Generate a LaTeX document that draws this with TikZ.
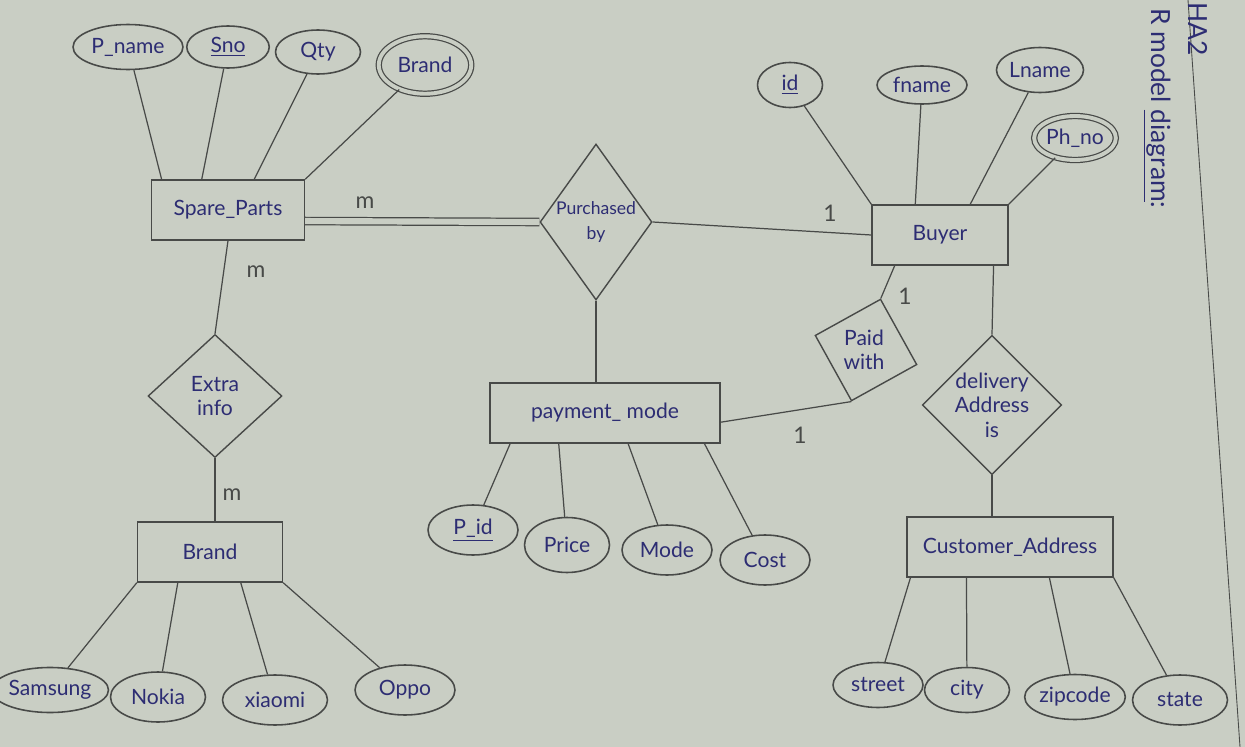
\documentclass[tikz,border=0pt]{standalone}
\usepackage{fontspec}
\setmainfont{Lato}
\usetikzlibrary{shapes.geometric,calc}
\definecolor{paper}{RGB}{201,206,196}
\definecolor{ink}{RGB}{45,45,115}
\definecolor{pencil}{RGB}{72,74,72}
\begin{document}
\begin{tikzpicture}[x=0.02cm,y=-0.02cm,
  every node/.style={font=\fontsize{12}{14}\selectfont, text=ink},
  line/.style={draw=pencil, line width=0.7pt},
  attr/.style={ellipse, draw=pencil, line width=0.9pt, inner sep=0pt},
  dattr/.style={attr, double=paper, double distance=2.2pt, line width=0.7pt},
  ent/.style={rectangle, draw=pencil, line width=0.8pt, inner sep=0pt},
  rel/.style={diamond, draw=pencil, line width=0.8pt, inner sep=0pt, align=center},
  card/.style={font=\fontsize{13}{14}\selectfont, text=pencil},
  margintext/.style={font=\fontsize{15}{16}\selectfont, text=ink, rotate=-90}]
\fill[paper] (0,0) rectangle (1245,747);
\useasboundingbox (0,0) rectangle (1245,747);

% margin
\coordinate (mtop) at (1188,0);
\coordinate (mbot) at (1240,747);
\draw[line, line width=0.5pt] (mtop) -- (mbot);
\node[margintext, anchor=west] (title) at (1157,2) {R model \underline{diagram}:};
\node[margintext, anchor=west] (ha) at (1198,-4) {HA2};

% entities
\node[ent, minimum width=3.06cm, minimum height=1.2cm] (sp) at (228,210) {Spare\_Parts};
\node[ent, minimum width=2.72cm, minimum height=1.2cm] (buyer) at (940,235) {Buyer};
\node[ent, minimum width=2.9cm, minimum height=1.2cm] (brand) at (210,552) {Brand};
\node[ent, minimum width=4.6cm, minimum height=1.2cm] (pm) at (605,413) {payment\_ mode};
\node[ent, minimum width=4.12cm, minimum height=1.2cm] (ca) at (1010,547) {Customer\_Address};

% relationships
\node[rel, minimum width=2.24cm, minimum height=3.12cm] (pb) at (596,222) {};
\node[align=center, font=\fontsize{10}{14}\selectfont] (pbtxt) at (596,222) {Purchased\\by};
\node[rel, minimum width=2.68cm, minimum height=2.46cm] (extra) at (215,396) {Extra\\info};
\node[rel, minimum width=2.12cm, minimum height=2.12cm, rotate=-16] (paid) at (866,350) {};
\node[align=center] (paidtxt) at (864,350) {Paid\\with};
\node[rel, minimum width=2.56cm, minimum height=2.52cm] (del) at (992,405) {delivery\\Address\\is};

% attributes of Spare_Parts
\node[attr, minimum width=2.2cm, minimum height=0.9cm] (pname) at (128,47) {P\_name};
\node[attr, minimum width=1.65cm, minimum height=0.84cm] (sno) at (228,47) {\underline{Sno}};
\node[attr, minimum width=1.7cm, minimum height=0.88cm] (qty) at (318,52) {Qty};
\node[dattr, minimum width=1.85cm, minimum height=1.15cm] (brandattr) at (425,65) {Brand};

% attributes of Buyer
\node[attr, minimum width=1.3cm, minimum height=0.9cm] (id) at (790,85) {\underline{id}};
\node[attr, minimum width=1.8cm, minimum height=0.76cm] (fname) at (922,85) {fname};
\node[attr, minimum width=1.7cm, minimum height=0.9cm] (lname) at (1040,70) {Lname};
\node[dattr, minimum width=1.4cm, minimum height=0.88cm] (phno) at (1075,138) {Ph\_no};

% attributes of Brand
\node[attr, minimum width=1.9cm, minimum height=0.9cm] (samsung) at (50,690) {Samsung};
\node[attr, minimum width=1.9cm, minimum height=1.0cm] (nokia) at (158,697) {Nokia};
\node[attr, minimum width=2.1cm, minimum height=1.0cm] (xiaomi) at (275,700) {xiaomi};
\node[attr, minimum width=2.0cm, minimum height=1.0cm] (oppo) at (405,690) {Oppo};

% attributes of payment_mode
\node[attr, minimum width=1.8cm, minimum height=1.0cm] (pid) at (473,530) {\underline{P\_id}};
\node[attr, minimum width=1.7cm, minimum height=1.1cm] (price) at (567,545) {Price};
\node[attr, minimum width=1.8cm, minimum height=1.0cm] (mode) at (667,550) {Mode};
\node[attr, minimum width=1.8cm, minimum height=1.0cm] (cost) at (765,560) {Cost};

% attributes of Customer_Address
\node[attr, minimum width=1.8cm, minimum height=0.9cm] (street) at (878,685) {street};
\node[attr, minimum width=1.7cm, minimum height=0.9cm] (city) at (967,690) {city};
\node[attr, minimum width=1.8cm, minimum height=0.9cm] (zip) at (1075,697) {zipcode};
\node[attr, minimum width=1.9cm, minimum height=1.0cm] (state) at (1180,700) {state};

% attribute connectors
\draw[line] (pname) -- ($(sp.north west)!0.07!(sp.north east)$);
\draw[line] (sno) -- ($(sp.north west)!0.33!(sp.north east)$);
\draw[line] (qty) -- ($(sp.north west)!0.67!(sp.north east)$);
\draw[line] (brandattr) -- (sp.north east);
\draw[line] (id) -- (buyer.north west);
\draw[line] (fname) -- ($(buyer.north west)!0.32!(buyer.north east)$);
\draw[line] (lname) -- ($(buyer.north west)!0.72!(buyer.north east)$);
\draw[line] (phno) -- (buyer.north east);
\draw[line] (samsung) -- (brand.south west);
\draw[line] (nokia) -- ($(brand.south west)!0.28!(brand.south east)$);
\draw[line] (xiaomi) -- ($(brand.south west)!0.71!(brand.south east)$);
\draw[line] (oppo) -- (brand.south east);
\draw[line] (pid) -- ($(pm.south west)!0.09!(pm.south east)$);
\draw[line] (price) -- ($(pm.south west)!0.3!(pm.south east)$);
\draw[line] (mode) -- ($(pm.south west)!0.6!(pm.south east)$);
\draw[line] (cost) -- ($(pm.south west)!0.93!(pm.south east)$);
\draw[line] (street) -- ($(ca.south west)!0.02!(ca.south east)$);
\draw[line] (city) -- ($(ca.south west)!0.29!(ca.south east)$);
\draw[line] (zip) -- ($(ca.south west)!0.69!(ca.south east)$);
\draw[line] (state) -- (ca.south east);

% relationship connectors
\draw[line, double=paper, double distance=3.5pt] ($(sp.north east)!0.68!(sp.south east)$) -- (pb.west);
\draw[line] (pb.east) -- (buyer.west);
\draw[line] (pb.south) -- (pb.south |- pm.north);
\draw[line] (sp.south) -- (extra.north);
\draw[line] (extra.south) -- (extra.south |- brand.north);
\draw[line] ($(pm.north east)!0.65!(pm.south east)$) -- (paid.south);
\draw[line] (paid.north) -- ($(buyer.south west)!0.17!(buyer.south east)$);
\draw[line] ($(buyer.south west)!0.89!(buyer.south east)$) -- (del.north);
\draw[line] (del.south) -- (del.south |- ca.north);

% cardinalities
\node[card] (c1) at (365,203) {m};
\node[card] (c2) at (256,272) {m};
\node[card] (c3) at (232,495) {m};
\node[card] (c4) at (830,213) {1};
\node[card] (c5) at (905,296) {1};
\node[card] (c6) at (800,435) {1};
\end{tikzpicture}
\end{document}
